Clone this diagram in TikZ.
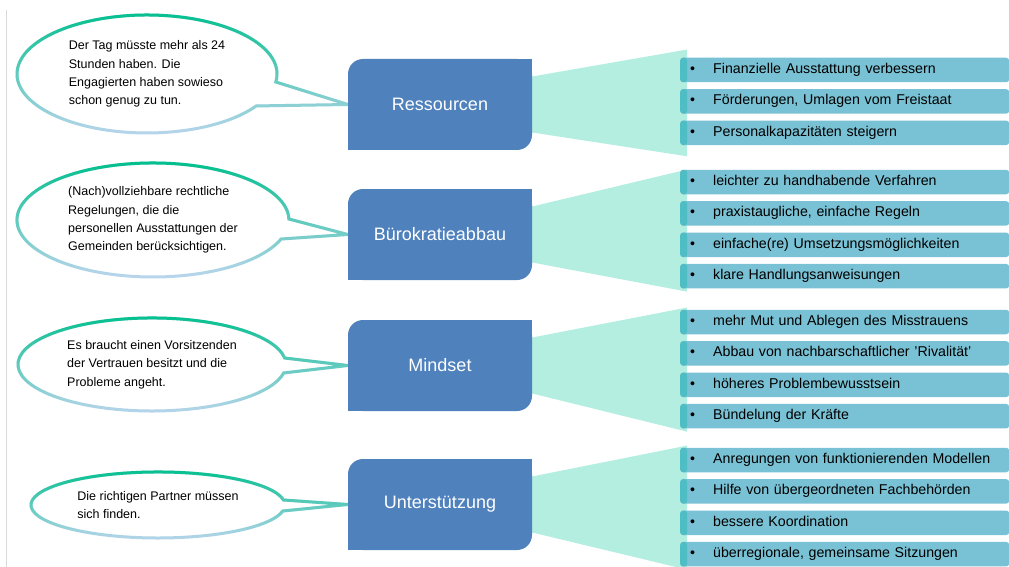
\documentclass[tikz,border=0pt]{standalone}
\usepackage{fontspec}
\setmainfont{Liberation Sans}
\usetikzlibrary{positioning, calc, backgrounds, fadings}

\definecolor{catblue}{RGB}{79,129,189}
\definecolor{fanmint}{RGB}{180,238,224}
\definecolor{barteal}{RGB}{121,193,212}
\definecolor{tabteal}{RGB}{78,190,196}
\definecolor{bubblegreen}{RGB}{0,192,140}
\definecolor{bubbleblue}{RGB}{189,214,238}
\definecolor{framegray}{RGB}{217,217,217}

\tikzfading[name=bubblefade, top color=transparent!0, middle color=transparent!40, bottom color=transparent!100]

\begin{document}
\begin{tikzpicture}[x=1pt, y=-1pt,
    catbox/.style={rectangle, fill=catblue, rounded corners=15pt, minimum width=184pt,
                   minimum height=91pt, text=white, font=\fontsize{18}{21}\selectfont},
    patch/.style={fill=catblue},
    bar/.style={anchor=west, fill=barteal, rounded corners=3pt, minimum height=24.5pt,
                inner ysep=0pt, inner xsep=10pt, text width=309pt, align=left,
                font=\fontsize{14.2}{16}\selectfont,
                execute at begin node={\strut\makebox[23pt][l]{\textbullet}},
                path picture={\fill[tabteal] (path picture bounding box.south west)
                    rectangle ([xshift=7pt]path picture bounding box.north west);}},
    fan/.style={fill=fanmint},
    bubble/.style={fill=white, draw=bubbleblue, line width=3pt,
                   postaction={draw=bubblegreen, line width=3pt, path fading=bubblefade}},
    bubtext/.style={align=left, inner sep=0pt, font=\fontsize{12.5}{18.3}\selectfont},
    frameline/.style={draw=framegray, line width=1pt}
]
    \useasboundingbox (0,0) rectangle (1009,567);

    % Left frame line
    \draw[frameline] (6,10) -- (6,567);

    % Category boxes
    \node[catbox] (res) at (440,104.5) {Ressourcen};
    \node[catbox] (buer) at (440,234.5) {Bürokratieabbau};
    \node[catbox] (mind) at (440,365.5) {Mindset};
    \node[catbox] (unter) at (440,504.5) {Unterstützung};

    % Sharp corners of the boxes
    \fill[patch] (res.north east) rectangle ++(-16,16);
    \fill[patch] (res.south west) rectangle ++(16,-16);
    \fill[patch] (buer.north east) rectangle ++(-16,16);
    \fill[patch] (buer.south west) rectangle ++(16,-16);
    \fill[patch] (mind.north east) rectangle ++(-16,16);
    \fill[patch] (mind.south west) rectangle ++(16,-16);
    \fill[patch] (unter.north east) rectangle ++(-16,16);
    \fill[patch] (unter.south west) rectangle ++(16,-16);

    % Ressourcen list
    \node[bar] (r1) at (680,70) {Finanzielle Ausstattung verbessern};
    \node[bar, below=6.5pt of r1] (r2) {Förderungen, Umlagen vom Freistaat};
    \node[bar, below=6.5pt of r2] (r3) {Personalkapazitäten steigern};

    % Buerokratieabbau list
    \node[bar] (b1) at (680,182) {leichter zu handhabende Verfahren};
    \node[bar, below=6.5pt of b1] (b2) {praxistaugliche, einfache Regeln};
    \node[bar, below=6.5pt of b2] (b3) {einfache(re) Umsetzungsmöglichkeiten};
    \node[bar, below=6.5pt of b3] (b4) {klare Handlungsanweisungen};

    % Mindset list
    \node[bar] (m1) at (680,322) {mehr Mut und Ablegen des Misstrauens};
    \node[bar, below=6.5pt of m1] (m2) {Abbau von nachbarschaftlicher 'Rivalität'};
    \node[bar, below=6.5pt of m2] (m3) {höheres Problembewusstsein};
    \node[bar, below=6.5pt of m3] (m4) {Bündelung der Kräfte};

    % Unterstuetzung list
    \node[bar] (u1) at (680,460) {Anregungen von funktionierenden Modellen};
    \node[bar, below=6.5pt of u1] (u2) {Hilfe von übergeordneten Fachbehörden};
    \node[bar, below=6.5pt of u2] (u3) {bessere Koordination};
    \node[bar, below=6.5pt of u3] (u4) {überregionale, gemeinsame Sitzungen};

    % Speech bubble texts
    \coordinate (c1) at (147,74);
    \coordinate (c2) at (153,220);
    \coordinate (c3) at (152,364.5);
    \coordinate (c4) at (158,505);
    \node[bubtext] (say1) at (c1) {Der Tag müsste mehr als 24\\Stunden haben. Die\\Engagierten haben sowieso\\schon genug zu tun.};
    \node[bubtext] (say2) at (c2) {(Nach)vollziehbare rechtliche\\Regelungen, die die\\personellen Ausstattungen der\\Gemeinden berücksichtigen.};
    \node[bubtext] (say3) at (c3) {Es braucht einen Vorsitzenden\\der Vertrauen besitzt und die\\Probleme angeht.};
    \node[bubtext] (say4) at (c4) {Die richtigen Partner müssen\\sich finden.};

    \begin{scope}[on background layer]
        % Fans from box to list
        \fill[fan] ($(res.east)+(0,-28)$) -- ($(r1.north west)+(7,-8)$) -- ($(r3.south west)+(7,11)$) -- ($(res.east)+(0,28)$) -- cycle;
        \fill[fan] ($(buer.east)+(0,-28)$) -- ($(b1.north west)+(7,0)$) -- ($(b4.south west)+(7,3)$) -- ($(buer.east)+(0,28)$) -- cycle;
        \fill[fan] ($(mind.east)+(0,-28)$) -- ($(m1.north west)+(7,-2)$) -- ($(m4.south west)+(7,3)$) -- ($(mind.east)+(0,28)$) -- cycle;
        \fill[fan] ($(unter.east)+(0,-28)$) -- ($(u1.north west)+(7,-2)$) -- ($(u4.south west)+(7,3)$) -- ($(unter.east)+(0,28)$) -- cycle;

        % Speech bubbles
        \path[bubble] (c1) ++(7.8:130 and 59) arc[start angle=7.8, end angle=-327.2, x radius=130, y radius=59] -- (res.west) -- cycle;
        \path[bubble] (c2) ++(-1:136 and 57) arc[start angle=-1, end angle=-340.5, x radius=136, y radius=57] -- (buer.west) -- cycle;
        \path[bubble] (c3) ++(-8:134 and 46.5) arc[start angle=-8, end angle=-349.5, x radius=134, y radius=46.5] -- (mind.west) -- cycle;
        \path[bubble] (c4) ++(-8.7:127 and 33) arc[start angle=-8.7, end angle=-349.5, x radius=127, y radius=33] -- (unter.west) -- cycle;
    \end{scope}

\end{tikzpicture}
\end{document}
